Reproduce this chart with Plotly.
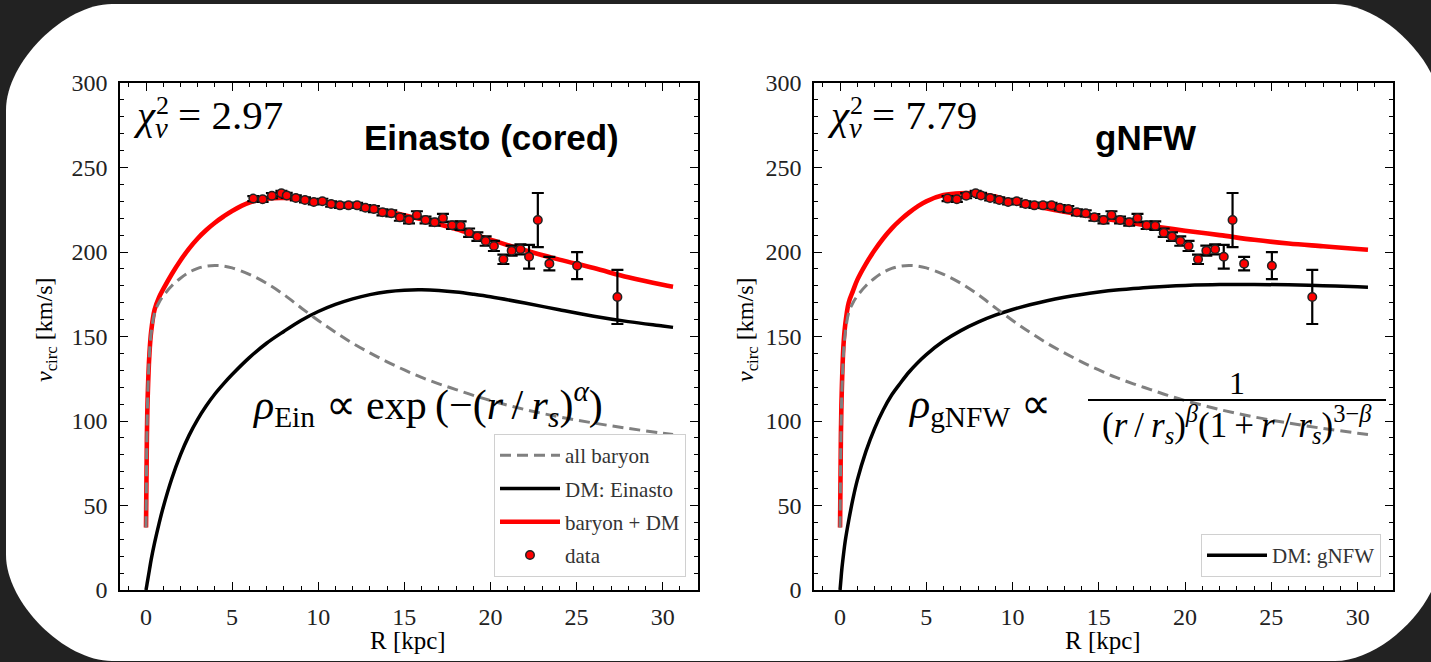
import plotly.graph_objects as go

# ---------------- data ----------------
# Observed circular velocities
R_data = [6.23, 6.77, 7.31, 7.86, 8.17, 8.70, 9.23, 9.74, 10.24, 10.75, 11.26, 11.76,
          12.26, 12.74, 13.23, 13.73, 14.24, 14.74, 15.27, 15.73, 16.23, 16.76, 17.24,
          17.77, 18.27, 18.76, 19.24, 19.72, 20.20, 20.75, 21.23, 21.74, 22.24, 22.75,
          23.42, 25.03, 27.37]
v_data = [231.6, 231.2, 233.3, 234.7, 233.5, 232.0, 230.8, 229.6, 230.0, 228.4, 227.6,
          227.6, 227.6, 226.2, 225.4, 223.5, 222.9, 220.5, 218.9, 221.9, 218.9, 217.6,
          220.1, 215.8, 215.6, 211.4, 209.1, 206.5, 203.6, 195.7, 200.8, 201.6, 197.2,
          218.9, 193.1, 191.9, 173.4]
v_err = [1.5, 1.5, 1.5, 1.5, 1.5, 1.5, 1.5, 1.5, 1.5, 1.5, 1.5, 1.5, 1.5, 1.5,
         1.8, 1.8, 1.8, 2.0, 2.0, 2.2, 2.0, 2.0, 2.5, 2.2, 2.5, 2.5, 2.5, 2.8, 3.0,
         2.8, 3.0, 3.0, 7.0, 16.0, 4.0, 8.0, 16.0]

# Model curves sampled on a common radius grid [kpc]
R_model = [0, 0.05, 0.1, 0.2, 0.3, 0.5, 0.75, 1, 1.5, 2, 2.5, 3, 3.5, 4, 4.5, 5, 6, 7,
           8, 9, 10, 11, 12, 13, 14, 15, 16, 17, 18, 19, 20, 22, 24, 26, 28, 30, 30.6]
v_baryon = [37, 90, 115, 140, 152, 164, 170, 174, 180, 184.5, 188, 190.3, 191.6, 192,
            191.7, 190.6, 186.8, 181.5, 174.8, 167.0, 159.5, 152.5, 146.0, 140.3, 135.0,
            130.2, 125.8, 122.0, 118.6, 115.2, 112.1, 106.8, 102.4, 98.8, 95.6, 92.8, 92.0]
v_dm_ein = [0, 3, 6, 12, 18, 28, 39, 49, 66, 80, 91.5, 101, 109, 116, 122, 127.5, 137.5,
            146, 153, 159.5, 164.8, 169, 172.3, 174.8, 176.5, 177.4, 177.6, 177.2, 176.3,
            175, 173.5, 169.8, 165.8, 162, 158.8, 156.2, 155.4]
v_tot_ein = [37, 90, 115, 140, 153, 166, 173, 178, 187, 195, 202, 208, 213, 217.3,
             221, 224.3, 229.3, 231.6, 232.0, 231.3, 230.0, 228.6, 227.2, 225.7, 224.0,
             221.8, 219.3, 216.5, 213.6, 210.5, 207.3, 201.0, 195.5, 190.5, 185.0, 180.6,
             179.5]
v_dm_gnfw = [0, 6, 12, 21, 29, 41, 54, 65, 82, 95.5, 106.5, 115.5, 122.5, 129, 134.5,
             139.3, 147.3, 153.5, 158.5, 162.6, 166, 168.8, 171.2, 173.2, 174.9, 176.3,
             177.5, 178.4, 179.2, 179.8, 180.2, 180.7, 180.8, 180.6, 180.1, 179.4, 179.2]
v_tot_gnfw = [37, 92, 118, 145, 157, 170, 177, 183.5, 193, 201, 208, 214, 219, 223.3,
              227, 230, 233.7, 234.8, 234.5, 232.8, 229.5, 227.6, 225.7, 223.8, 222.0,
              220.3, 218.6, 217.0, 215.4, 214.0, 212.6, 210.0, 207.2, 205.0, 203.4, 201.8,
              201.3]

x_ticks = [0, 5, 10, 15, 20, 25, 30]
y_ticks = [0, 50, 100, 150, 200, 250, 300]

# ---------------- geometry helpers (pixel -> paper) ----------------
W, H = 1431, 662


def px(x):
    return x / W


def py(y):
    return 1 - y / H


SERIF = "Liberation Serif, Times New Roman, serif"
SANS = "Liberation Sans, Arial, sans-serif"
SMOOTH = 1.0

fig = go.Figure()


def add_panel(xa, ya, v_dm, v_tot, dm_name, legend_id, show_all):
    # total (baryon + DM)
    fig.add_trace(go.Scatter(
        x=R_model, y=v_tot, xaxis=xa, yaxis=ya, mode="lines", name="baryon + DM",
        line=dict(color="#ff0000", width=4.6, shape="spline", smoothing=SMOOTH),
        showlegend=show_all, legend=legend_id, legendrank=3, legendgroup="c"))
    # dark matter
    fig.add_trace(go.Scatter(
        x=R_model, y=v_dm, xaxis=xa, yaxis=ya, mode="lines", name=dm_name,
        line=dict(color="#000000", width=3.5, shape="spline", smoothing=SMOOTH),
        showlegend=True, legend=legend_id, legendrank=2, legendgroup="b"))
    # baryons
    fig.add_trace(go.Scatter(
        x=R_model, y=v_baryon, xaxis=xa, yaxis=ya, mode="lines", name="all baryon",
        line=dict(color="#808080", width=3, dash="11px,6px", shape="spline",
                  smoothing=SMOOTH),
        showlegend=show_all, legend=legend_id, legendrank=1, legendgroup="a"))
    # data
    fig.add_trace(go.Scatter(
        x=R_data, y=v_data, xaxis=xa, yaxis=ya, mode="markers", name="data",
        error_y=dict(type="data", array=v_err, visible=True, color="#000000",
                     thickness=2.2, width=6),
        marker=dict(color="#ff0000", size=8.5, line=dict(color="#222222", width=1.5)),
        showlegend=show_all, legend=legend_id, legendrank=4, legendgroup="d"))


add_panel("x", "y", v_dm_ein, v_tot_ein, "DM: Einasto", "legend", True)
add_panel("x2", "y2", v_dm_gnfw, v_tot_gnfw, "DM: gNFW", "legend2", False)

ydom = [py(590), py(83)]
xrange_ = [-1.51, 32.05]


def xaxis_cfg(domain, anchor):
    return dict(domain=domain, anchor=anchor, range=xrange_, tickvals=x_ticks,
                ticks="inside", ticklen=8, tickwidth=1.3, tickcolor="black",
                minor=dict(dtick=1, ticks="inside", ticklen=4, tickwidth=1.1,
                           tickcolor="black"),
                showline=True, linecolor="black", linewidth=1.6, mirror="allticks",
                showgrid=False, zeroline=False,
                tickfont=dict(family=SERIF, size=24, color="#222"),
                ticklabelstandoff=4)


def yaxis_cfg(anchor):
    return dict(domain=ydom, anchor=anchor, range=[0, 300], tickvals=y_ticks,
                ticks="inside", ticklen=8, tickwidth=1.3, tickcolor="black",
                minor=dict(dtick=10, ticks="inside", ticklen=4, tickwidth=1.1,
                           tickcolor="black"),
                showline=True, linecolor="black", linewidth=1.6, mirror="allticks",
                showgrid=False, zeroline=False,
                tickfont=dict(family=SERIF, size=24, color="#222"),
                ticklabelstandoff=6)


# rounded white card on a dark backdrop
x0, y0, x1, y1, r = 6, 4, 1441, 661, 106
k = 0.45 * r
card = (
    f"M {px(x0 + r)},{py(y0)} L {px(x1 - r)},{py(y0)} "
    f"C {px(x1 - r + k)},{py(y0)} {px(x1)},{py(y0 + r - k)} {px(x1)},{py(y0 + r)} "
    f"L {px(x1)},{py(y1 - r)} "
    f"C {px(x1)},{py(y1 - r + k)} {px(x1 - r + k)},{py(y1)} {px(x1 - r)},{py(y1)} "
    f"L {px(x0 + r)},{py(y1)} "
    f"C {px(x0 + r - k)},{py(y1)} {px(x0)},{py(y1 - r + k)} {px(x0)},{py(y1 - r)} "
    f"L {px(x0)},{py(y0 + r)} "
    f"C {px(x0)},{py(y0 + r - k)} {px(x0 + r - k)},{py(y0)} {px(x0 + r)},{py(y0)} Z"
)

shapes = [
    dict(type="path", xref="paper", yref="paper", path=card,
         fillcolor="white", line=dict(width=0), layer="below"),
    # fraction bar of the gNFW profile
    dict(type="line", xref="paper", yref="paper", x0=px(1088), x1=px(1386),
         y0=py(400), y1=py(400), line=dict(color="black", width=2)),
]


def ann(text, x, y, size, family=SERIF, xanchor="left", yanchor="middle", angle=0,
        color="black"):
    return dict(text=text, x=px(x), y=py(y), xref="paper", yref="paper",
                xanchor=xanchor, yanchor=yanchor, showarrow=False, textangle=angle,
                font=dict(family=family, size=size, color=color))


TS = "\u2009"  # thin space used inside the formulas
denominator = (f"(<i>r</i>{TS}/{TS}<i>r<sub>s</sub></i>)<sup><i>β</i></sup>"
               f"(1{TS}+{TS}<i>r</i>{TS}/{TS}<i>r<sub>s</sub></i>)<sup>3−<i>β</i></sup>")

annotations = [
    # reduced chi-square
    ann("<i>χ</i><sub><i>ν</i></sub> = 2.97", 131, 118, 41),
    ann("2", 162, 105, 26, xanchor="center"),
    ann("<i>χ</i><sub><i>ν</i></sub> = 7.79", 825, 118, 41),
    ann("2", 856, 105, 26, xanchor="center"),
    # panel titles
    ann("<b>Einasto (cored)</b>", 491, 137, 35, family=SANS, xanchor="center"),
    ann("<b>gNFW</b>", 1145, 137, 35, family=SANS, xanchor="center"),
    # density profiles
    ann(f"<i>ρ</i><sub>Ein</sub> ∝ exp{TS}(−(<i>r</i>{TS}/{TS}<i>r<sub>s</sub></i>)"
        f"<sup><i>α</i></sup>)", 250, 404, 42),
    ann("<i>ρ</i><sub>gNFW</sub> ∝", 906, 407, 42),
    ann("1", 1237, 383, 32, xanchor="center"),
    ann(denominator, 1237, 424, 35, xanchor="center"),
    # axis titles
    ann("<i>v</i><sub>circ</sub> [km/s]", 46, 330, 24, xanchor="center", angle=-90),
    ann("<i>v</i><sub>circ</sub> [km/s]", 747, 330, 24, xanchor="center", angle=-90),
    ann("R [kpc]", 408, 640, 25, xanchor="center"),
    ann("R [kpc]", 1103, 640, 25, xanchor="center"),
]

legend_common = dict(bgcolor="white", bordercolor="#d0d0d0", borderwidth=1,
                     font=dict(family=SERIF, size=21, color="#333"),
                     xanchor="right", yanchor="bottom", tracegroupgap=3,
                     traceorder="grouped", itemwidth=60)

fig.update_layout(
    width=W, height=H,
    margin=dict(l=0, r=0, t=0, b=0, pad=0, autoexpand=False),
    paper_bgcolor="#222222",
    plot_bgcolor="white",
    xaxis=xaxis_cfg([px(120), px(698)], "y"),
    yaxis=yaxis_cfg("x"),
    xaxis2=xaxis_cfg([px(814), px(1393)], "y2"),
    yaxis2=yaxis_cfg("x2"),
    shapes=shapes,
    annotations=annotations,
    legend=dict(x=px(686), y=py(577), **legend_common),
    legend2=dict(x=px(1381), y=py(577), **legend_common),
    showlegend=True,
)

fig.write_html("out.html")
